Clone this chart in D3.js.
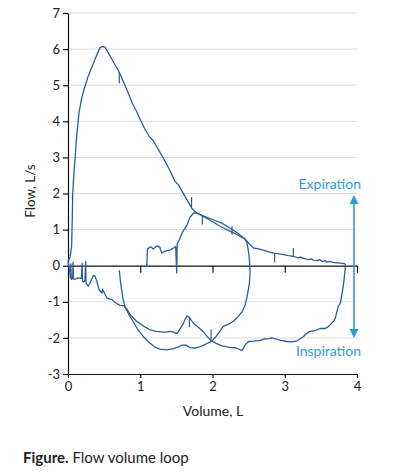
<!DOCTYPE html>
<html>
<head>
<meta charset="utf-8">
<script src="https://cdn.jsdelivr.net/npm/d3@7"></script>
<style>
  body { margin: 0; background: #fff; }
  svg { display: block; font-family: Lato, "Open Sans", sans-serif; }
</style>
</head>
<body>
<svg width="395" height="476"></svg>
<script>
// volume (L), flow (L/s)
var loopOneExpiration = [[0.0,0.12],[0.03,0.25],[0.05,0.53],[0.06,1.4],[0.065,1.99],[0.08,2.5],[0.097,2.94],[0.12,3.6],[0.152,4.23],[0.19,4.65],[0.235,4.97],[0.28,5.25],[0.33,5.5],[0.38,5.75],[0.443,6.04],[0.47,6.07],[0.51,6.06],[0.58,5.82],[0.64,5.6],[0.70,5.4],[0.77,5.08],[0.835,4.78],[0.89,4.5],[0.95,4.27],[1.0,4.05],[1.06,3.8],[1.126,3.58],[1.18,3.46],[1.25,3.22],[1.32,2.98],[1.40,2.68],[1.48,2.34],[1.53,2.24],[1.58,2.06],[1.62,1.92],[1.67,1.74],[1.71,1.60],[1.78,1.46],[1.87,1.38],[2.0,1.28],[2.13,1.18],[2.25,1.03],[2.35,0.9],[2.45,0.74],[2.52,0.58],[2.57,0.49],[2.65,0.46],[2.72,0.42],[2.84,0.35],[2.95,0.32],[3.05,0.28],[3.12,0.26],[3.18,0.22],[3.22,0.24],[3.28,0.19],[3.33,0.17],[3.37,0.19],[3.40,0.15],[3.45,0.14],[3.48,0.17],[3.52,0.12],[3.56,0.14],[3.58,0.1],[3.62,0.12],[3.67,0.09],[3.72,0.08],[3.78,0.07],[3.84,0.05]];

var loopOneInspiration = [[3.84,0.05],[3.84,-0.02],[3.82,-0.4],[3.81,-0.57],[3.79,-0.8],[3.77,-1.03],[3.74,-1.13],[3.70,-1.45],[3.67,-1.55],[3.61,-1.68],[3.56,-1.74],[3.49,-1.74],[3.42,-1.8],[3.35,-1.82],[3.3,-1.88],[3.26,-1.96],[3.17,-2.08],[3.1,-2.11],[3.03,-2.1],[2.95,-2.07],[2.87,-2.03],[2.82,-2.0],[2.78,-2.02],[2.72,-2.03],[2.66,-2.07],[2.57,-2.09],[2.5,-2.1],[2.45,-2.2],[2.41,-2.35],[2.33,-2.28],[2.24,-2.26],[2.13,-2.22],[2.05,-2.15],[1.99,-2.09],[1.93,-1.97],[1.87,-1.82],[1.80,-1.70],[1.74,-1.6],[1.71,-1.52],[1.68,-1.43],[1.65,-1.39],[1.62,-1.48],[1.60,-1.59],[1.55,-1.75],[1.51,-1.88],[1.46,-1.84],[1.41,-1.82],[1.36,-1.84],[1.32,-1.84],[1.22,-1.82],[1.14,-1.78],[1.05,-1.68],[0.95,-1.54],[0.86,-1.36],[0.81,-1.18],[0.77,-1.11],[0.72,-1.1],[0.65,-1.02],[0.61,-0.94],[0.54,-0.9],[0.49,-0.7],[0.48,-0.65],[0.47,-0.76],[0.43,-0.66],[0.40,-0.43],[0.37,-0.28],[0.35,-0.27],[0.30,-0.5],[0.28,-0.57],[0.25,-0.48],[0.245,0.12],[0.235,-0.4],[0.22,-0.45],[0.20,-0.43],[0.195,0.07],[0.185,-0.35],[0.14,-0.34],[0.10,-0.37],[0.075,-0.37],[0.07,0.1],[0.065,-0.35],[0.045,-0.38],[0.04,0.05],[0.035,-0.34],[0.02,-0.1],[0.0,0.12]];

var loopTwo = [[0.71,-0.13],[0.73,-0.5],[0.76,-0.9],[0.79,-1.15],[0.85,-1.38],[0.905,-1.56],[0.97,-1.78],[1.04,-1.96],[1.12,-2.12],[1.2,-2.25],[1.27,-2.31],[1.37,-2.33],[1.46,-2.30],[1.53,-2.25],[1.58,-2.2],[1.63,-2.2],[1.69,-2.27],[1.76,-2.28],[1.83,-2.24],[1.91,-2.17],[1.99,-2.09],[2.05,-1.96],[2.10,-1.82],[2.15,-1.68],[2.22,-1.62],[2.29,-1.54],[2.35,-1.42],[2.41,-1.27],[2.45,-1.1],[2.48,-0.85],[2.51,-0.5],[2.52,-0.2],[2.51,0.2],[2.49,0.5],[2.47,0.67],[2.44,0.75],[2.35,0.85],[2.24,0.96],[2.1,1.1],[1.95,1.28],[1.84,1.40],[1.78,1.46],[1.74,1.46],[1.69,1.35],[1.65,1.14],[1.60,0.98],[1.57,0.86],[1.53,0.67],[1.51,0.6],[1.505,-0.2],[1.49,0.53],[1.46,0.49],[1.41,0.43],[1.37,0.42],[1.34,0.40],[1.30,0.35],[1.28,0.45],[1.27,0.52],[1.23,0.55],[1.20,0.5],[1.18,0.46],[1.15,0.52],[1.136,0.52],[1.11,0.48],[1.10,0.46],[1.09,-0.02]];

// little event marks on the traces: volume, flow from, flow to
var markers = [[0.71,5.36,5.05],[1.71,1.62,1.9],[1.86,1.38,1.14],[2.27,1.09,0.86],[2.86,0.35,0.09],[3.12,0.26,0.49],[1.68,-1.45,-1.7],[1.98,-1.77,-2.05]];

var yTicks = [-3,-2,-1,0,1,2,3,4,5,6,7];
var xTicks = [0,1,2,3,4];
var gridLines = [-2,-1,1,2,3,4,5,6,7];

var svg = d3.select("svg");
var x = d3.scaleLinear().domain([0,4]).range([68,357]);
var y = d3.scaleLinear().domain([-3,7]).range([374,13]);
var blue = "#2c5d9b";
var light = "#2f9bd9";

// gridlines
svg.append("g").selectAll("line")
  .data(gridLines)
  .enter().append("line")
  .attr("x1", x(0)).attr("x2", x(4))
  .attr("y1", d => y(d)).attr("y2", d => y(d))
  .attr("stroke", "#dcdcdc").attr("stroke-width", 1);

// left axis
var left = svg.append("g")
  .attr("transform", "translate(" + x(0) + ",0)")
  .call(d3.axisLeft(y).tickValues(yTicks).tickSize(5).tickSizeOuter(0).tickFormat(d => String(d)));

// bottom axis at -3
var bottom = svg.append("g")
  .attr("transform", "translate(0," + y(-3) + ")")
  .call(d3.axisBottom(x).tickValues(xTicks).tickSize(4).tickSizeOuter(0).tickPadding(4).tickFormat(d => String(d)));

// zero line with ticks
var zero = svg.append("g")
  .attr("transform", "translate(0," + y(0) + ")")
  .call(d3.axisBottom(x).tickValues([1,2,3,4]).tickSize(7).tickSizeOuter(0).tickFormat(""));

[left, bottom, zero].forEach(function(g){
  g.selectAll("path, line").attr("stroke", "#111").attr("stroke-width", 1.2);
  g.selectAll("text").attr("fill", "#222").style("font-size", "13px").style("font-family", "Lato, sans-serif");
});

// traces
var line = d3.line().x(d => x(d[0])).y(d => y(d[1]));
[loopOneExpiration, loopOneInspiration, loopTwo].forEach(function(pts){
  svg.append("path")
    .attr("d", line(pts))
    .attr("fill", "none")
    .attr("stroke", blue)
    .attr("stroke-width", 1.3)
    .attr("stroke-linejoin", "round");
});

svg.append("g").selectAll("line")
  .data(markers)
  .enter().append("line")
  .attr("x1", d => x(d[0])).attr("x2", d => x(d[0]))
  .attr("y1", d => y(d[1])).attr("y2", d => y(d[2]))
  .attr("stroke", blue).attr("stroke-width", 1.2);

// expiration / inspiration arrow
var ax = 354;
svg.append("line")
  .attr("x1", ax).attr("x2", ax)
  .attr("y1", 202).attr("y2", 331)
  .attr("stroke", light).attr("stroke-width", 1.6);
svg.append("path")
  .attr("d", "M" + ax + ",195 L" + (ax - 4.5) + ",204 L" + (ax + 4.5) + ",204 Z")
  .attr("fill", light);
svg.append("path")
  .attr("d", "M" + ax + ",338 L" + (ax - 4.5) + ",329 L" + (ax + 4.5) + ",329 Z")
  .attr("fill", light);

svg.append("text")
  .attr("x", 361).attr("y", 189)
  .attr("text-anchor", "end")
  .attr("fill", light)
  .style("font-size", "14px")
  .text("Expiration");
svg.append("text")
  .attr("x", 361).attr("y", 356)
  .attr("text-anchor", "end")
  .attr("fill", light)
  .style("font-size", "14px")
  .text("Inspiration");

// axis titles
svg.append("text")
  .attr("transform", "translate(35,191) rotate(-90)")
  .attr("text-anchor", "middle")
  .attr("fill", "#222")
  .style("font-size", "13.5px")
  .text("Flow, L/s");
svg.append("text")
  .attr("x", 213).attr("y", 416)
  .attr("text-anchor", "middle")
  .attr("fill", "#222")
  .style("font-size", "14px")
  .text("Volume, L");

// caption
var cap = svg.append("text")
  .attr("x", 23).attr("y", 463)
  .attr("fill", "#222")
  .style("font-size", "15px");
cap.append("tspan").style("font-weight", "bold").text("Figure.");
cap.append("tspan").text(" Flow volume loop");
</script>
</body>
</html>
